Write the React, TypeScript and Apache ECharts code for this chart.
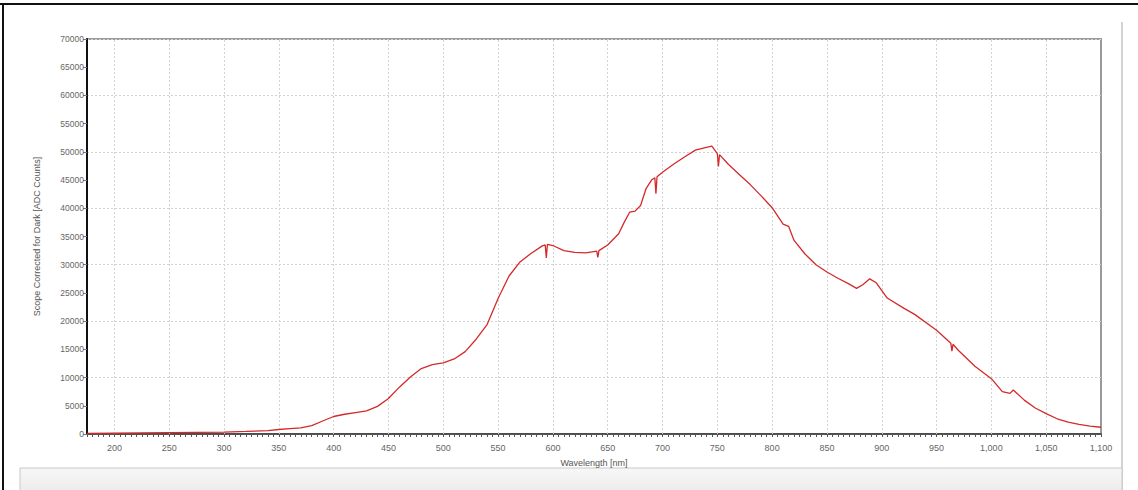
import React, { useEffect, useRef } from "react";
import * as echarts from "echarts";

const wavelengths = [
  175, 200, 225, 250, 275, 300, 320, 340, 350, 360, 370, 380, 390, 400, 410, 420, 430, 440, 450,
  460, 470, 480, 490, 500, 510, 520, 530, 540, 550, 560, 570, 580, 590, 593, 594, 595, 600, 610,
  620, 630, 640, 641, 642, 650, 660, 665, 670, 675, 680, 685, 690, 693, 694, 695, 700, 710, 720,
  730, 740, 745, 750, 751, 752, 760, 770, 780, 790, 800, 810, 815, 820, 830, 840, 850, 860, 870,
  877, 883, 889, 895, 905, 920, 930, 950, 963, 964, 965, 970, 985, 1000, 1010, 1017, 1020, 1030,
  1040, 1050, 1060, 1070, 1080, 1090, 1100,
];

const counts = [
  100, 150, 200, 250, 300, 350, 450, 600, 800, 950, 1100, 1500, 2300, 3100, 3500, 3800, 4100,
  4900, 6300, 8300, 10100, 11600, 12300, 12600, 13300, 14600, 16800, 19400, 24000, 28000, 30500,
  32000, 33300, 33500, 31200, 33600, 33400, 32500, 32200, 32100, 32400, 31300, 32500, 33500, 35500,
  37500, 39300, 39500, 40500, 43500, 45000, 45400, 42600, 45600, 46400, 47800, 49100, 50300, 50800,
  51000, 49700, 47400, 49500, 47800, 46000, 44200, 42200, 40100, 37200, 36800, 34300, 31900, 30000,
  28700, 27600, 26600, 25800, 26500, 27500, 26800, 24100, 22300, 21200, 18400, 16100, 14700, 15900,
  14800, 12000, 9800, 7500, 7200, 7800, 6000, 4600, 3600, 2700, 2100, 1700, 1400, 1200,
];

const xTickValues = [200, 250, 300, 350, 400, 450, 500, 550, 600, 650, 700, 750, 800, 850, 900, 950, 1000, 1050, 1100];

const xTitle = "Wavelength [nm]";
const yTitle = "Scope Corrected for Dark [ADC Counts]";

function fmtX(v: number) {
  const s = String(Math.round(v));
  return s.length > 3 ? s.slice(0, s.length - 3) + "," + s.slice(-3) : s;
}

export default function App() {
  const ref = useRef<HTMLDivElement>(null);
  useEffect(() => {
    if (!ref.current) return;
    const chart = echarts.init(ref.current, undefined, { renderer: "svg" });
    const data = wavelengths.map((w, i) => [w, counts[i]]);
    const font = "'Liberation Sans', Arial, sans-serif";
    const gridLineStyle = { color: "#d2d2d2", type: [2, 2], width: 1 };
    chart.setOption({
      animation: false,
      backgroundColor: "#ffffff",
      grid: {
        left: 87,
        right: 37,
        top: 39,
        bottom: 56,
        show: true,
        borderColor: "#9a9a9a",
        borderWidth: 2,
        backgroundColor: "#ffffff",
      },
      xAxis: [
        {
          type: "value",
          position: "bottom",
          min: 175,
          max: 1100,
          name: xTitle,
          nameLocation: "middle",
          nameGap: 24,
          nameTextStyle: { color: "#555", fontSize: 9, fontFamily: font },
          axisLine: { show: true, onZero: false, lineStyle: { color: "#333", width: 1.5 } },
          axisTick: { show: false, customValues: xTickValues },
          axisLabel: {
            customValues: xTickValues,
            color: "#666",
            fontSize: 9,
            fontFamily: font,
            margin: 9,
            formatter: (v: number) => fmtX(v),
          },
          splitLine: { show: false },
        },
        {
          type: "value",
          position: "bottom",
          min: 175,
          max: 1100,
          interval: 5,
          axisLine: { show: false },
          axisTick: { show: true, length: 3, inside: false, lineStyle: { color: "#555", width: 1 } },
          axisLabel: { show: false },
          splitLine: { show: false },
        },
      ],
      yAxis: [
        {
          type: "value",
          position: "left",
          min: 0,
          max: 70000,
          interval: 5000,
          name: yTitle,
          nameLocation: "middle",
          nameGap: 46,
          nameTextStyle: { color: "#555", fontSize: 9, fontFamily: font },
          axisLine: { show: true, lineStyle: { color: "#111", width: 2 } },
          axisTick: { show: true, length: 4, lineStyle: { color: "#777" } },
          axisLabel: {
            color: "#666",
            fontSize: 8.5,
            fontFamily: font,
            margin: 3,
            formatter: (v: number) => String(v),
          },
          splitLine: { show: false },
        },
        {
          type: "value",
          position: "left",
          min: 0,
          max: 70000,
          interval: 10000,
          axisLine: { show: false },
          axisTick: { show: false },
          axisLabel: { show: false },
          splitLine: { show: true, lineStyle: gridLineStyle },
        },
      ],
      graphic: [
        { type: "line", shape: { x1: 0, y1: 4, x2: 1138, y2: 4 }, style: { stroke: "#111", lineWidth: 2 } },
        { type: "line", shape: { x1: 3, y1: 4, x2: 3, y2: 490 }, style: { stroke: "#111", lineWidth: 2 } },
        { type: "line", shape: { x1: 1122, y1: 22, x2: 1122, y2: 490 }, style: { stroke: "#c4c4c4", lineWidth: 1.5 } },
        {
          type: "rect",
          shape: { x: 20, y: 468, width: 1102, height: 30 },
          style: {
            fill: {
              type: "linear",
              x: 0,
              y: 0,
              x2: 0,
              y2: 1,
              colorStops: [
                { offset: 0, color: "#f7f7f7" },
                { offset: 1, color: "#e9e9e9" },
              ],
            },
            stroke: "#c8c8c8",
            lineWidth: 1,
          },
        },
      ],
      series: [
        {
          type: "line",
          xAxisIndex: 0,
          yAxisIndex: 0,
          data: [[175, 0]],
          symbol: "none",
          showSymbol: false,
          silent: true,
          lineStyle: { opacity: 0 },
          z: 1,
          markLine: {
            silent: true,
            symbol: "none",
            label: { show: false },
            lineStyle: gridLineStyle,
            data: xTickValues.filter((v) => v < 1100).map((v) => ({ xAxis: v })),
          },
        },
        {
          type: "line",
          xAxisIndex: 0,
          yAxisIndex: 0,
          data,
          showSymbol: false,
          symbol: "none",
          lineStyle: { color: "#d42a2a", width: 1.3 },
          z: 5,
        },
      ],
    });
    return () => chart.dispose();
  }, []);
  return (
    <div
      ref={ref}
      style={{ position: "fixed", left: 0, top: 0, width: 1138, height: 490, background: "#fff" }}
    />
  );
}
